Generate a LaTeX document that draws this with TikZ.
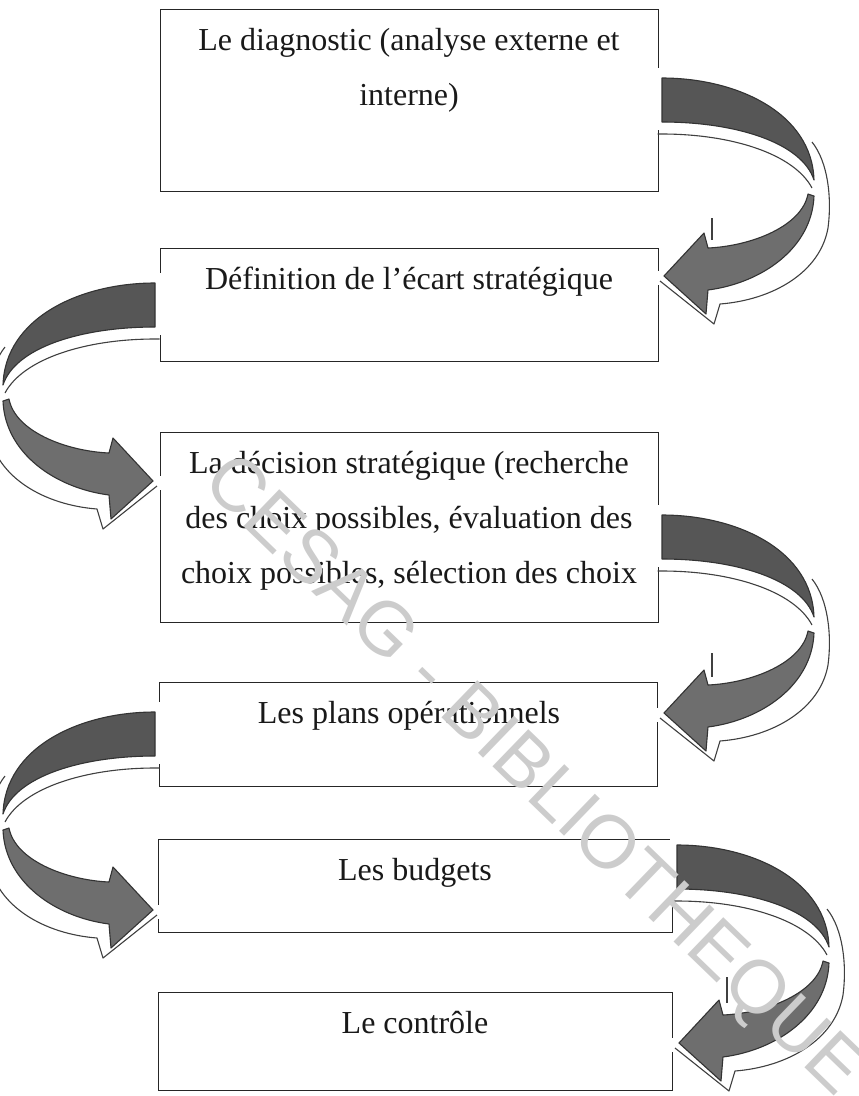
\documentclass[tikz,border=0pt]{standalone}
\usepackage{fontspec}
\setmainfont{Liberation Serif}
\newfontfamily\wmfont{Liberation Sans}
\definecolor{arrowdark}{RGB}{86,86,86}
\definecolor{arrowmid}{RGB}{110,110,110}
\begin{document}
\begin{tikzpicture}[x=1pt,y=-1pt,
  stagebox/.style={draw=black!85, line width=1.4pt, minimum width=498pt,
    anchor=north west, inner sep=0pt},
  widebox/.style={stagebox, minimum width=514pt},
  lbl/.style={font=\fontsize{32}{55}\selectfont, text=black!90,
    inner sep=0pt, anchor=base},
  crest/.style={fill=arrowdark, draw=black!80, line width=1.1pt, line join=round},
  armbody/.style={fill=arrowmid, draw=black!80, line width=1.1pt, line join=round},
  rimline/.style={draw=black!75, line width=1.1pt, line join=round},
  wm/.style={font=\wmfont\fontsize{75}{75}\selectfont, text=black!20, inner sep=0pt},
  bend arrow/.pic={
    % white rims hiding the box edge where the ribbon leaves and arrives
    \fill[white] (-7,-10) rectangle (0,52);
    \fill[white] (-7,193) rectangle (0,207);
    % lighter underside of the ribbon
    \draw[rimline] (-4.5,56) -- (0,56) .. controls (70,56) and (132,76) .. (150,110);
    \draw[rimline] (150,64) .. controls (166,84) and (170,120) .. (166,150)
      .. controls (158,195) and (110,222) .. (58,226) -- (52,246) -- (-2,203);
    % upper tapering band
    \draw[crest] (0,0) .. controls (75,0) and (150,35) .. (152,102)
      .. controls (140,65) and (75,44) .. (0,44) -- cycle;
    % lower band with its head
    \draw[armbody] (146,116) .. controls (140,148) and (90,168) .. (46,170)
      -- (42,155) -- (2,198) -- (44,236) -- (46,212)
      .. controls (100,205) and (150,170) .. (152,118) -- cycle;
  }
]
\useasboundingbox (0,0) rectangle (859,1096);
\fill[white] (0,0) rectangle (859,1096);

% stages
\node[stagebox, minimum height=182pt] (b1) at (160,9) {};
\node[stagebox, minimum height=113pt] (b2) at (160,248) {};
\node[stagebox, minimum height=190pt] (b3) at (160,432) {};
\node[stagebox, minimum height=104pt] (b4) at (159,682) {};
\node[widebox, minimum height=93pt] (b5) at (158,839) {};
\node[widebox, minimum height=98pt] (b6) at (158,992) {};

\node[lbl] (t1) at (409,50) {\parbox[t]{480pt}{\centering Le diagnostic (analyse externe et\\ interne)}};
\node[lbl] (t2) at (409,289) {Définition de l’écart stratégique};
\node[lbl] (t3) at (409,473) {\parbox[t]{480pt}{\centering La décision stratégique (recherche\\ des choix possibles, évaluation des\\ choix possibles, sélection des choix}};
\node[lbl] (t4) at (409,723) {Les plans opérationnels};
\node[lbl] (t5) at (415,880) {Les budgets};
\node[lbl] (t6) at (415,1033) {Le contrôle};

% curved arrows between consecutive stages
\pic at (662,78) {bend arrow};
\draw[rimline] (712,218) -- (712,240);
\pic[xscale=-1] at (155,283) {bend arrow};
\pic at (662,515) {bend arrow};
\draw[rimline] (712,653) -- (712,677);
\pic[xscale=-1] at (155,712) {bend arrow};
\pic at (677,845) {bend arrow};
\draw[rimline] (727,977) -- (727,1003);

% library stamp
\node[wm, rotate=-44] (stamp) at (532,778) {CESAG - BIBLIOTHEQUE};
\end{tikzpicture}
\end{document}
